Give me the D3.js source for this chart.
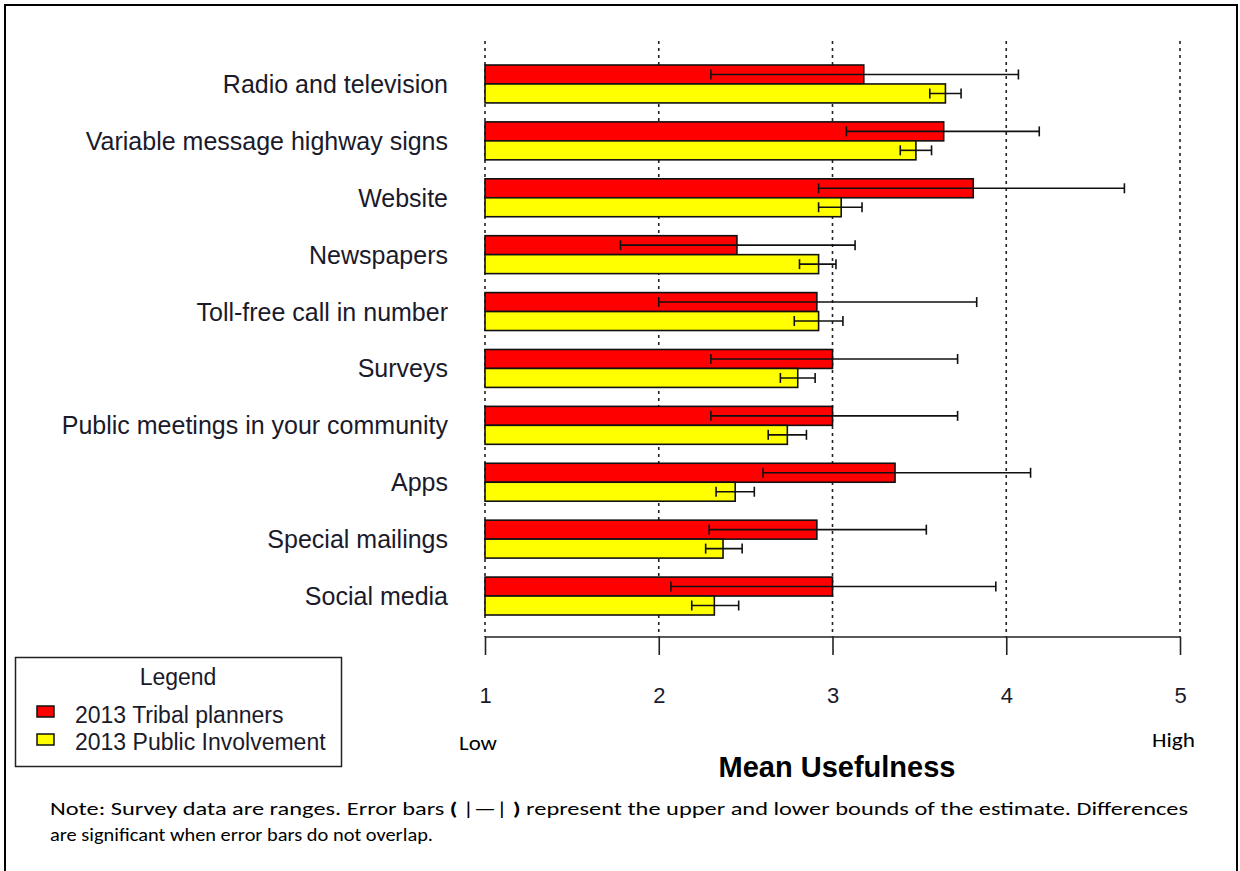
<!DOCTYPE html>
<html><head><meta charset="utf-8">
<script src="https://cdn.jsdelivr.net/npm/d3@7"></script>
<style>body{margin:0;background:#fff}svg{display:block}</style>
</head><body><svg id="c" width="1240" height="871"></svg>
<script>
const categories = ["Radio and television","Variable message highway signs","Website","Newspapers","Toll-free call in number","Surveys","Public meetings in your community","Apps","Special mailings","Social media"];
const seriesNames = ["2013 Tribal planners","2013 Public Involvement"];
const seriesColors = ["#ff0000","#ffff00"];
const tribalMean = [3.18,3.64,3.81,2.45,2.91,3.00,3.00,3.36,2.91,3.00];
const tribalLow  = [2.30,3.08,2.92,1.78,2.00,2.30,2.30,2.60,2.29,2.07];
const tribalHigh = [4.07,4.19,4.68,3.13,3.83,3.72,3.72,4.14,3.54,3.94];
const publicMean = [3.65,3.48,3.05,2.92,2.92,2.80,2.74,2.44,2.37,2.32];
const publicLow  = [3.56,3.39,2.92,2.81,2.78,2.70,2.63,2.33,2.27,2.19];
const publicHigh = [3.74,3.57,3.17,3.02,3.06,2.90,2.85,2.55,2.48,2.46];
const xTicks = [1,2,3,4,5];

const svg = d3.select("#c");
const font = "'Liberation Sans', Arial, sans-serif";
const ink = "#1a1a2a";

// frame
svg.append("path").attr("d","M5,871 V5 H1237 V871").attr("fill","none").attr("stroke","#000").attr("stroke-width",2);

const x = d3.scaleLinear().domain([1,5]).range([485,1180]);
const y = d3.scaleBand().domain(categories).range([65,615]).paddingInner(1/3).paddingOuter(0);
const ys = d3.scaleBand().domain([0,1]).range([0,y.bandwidth()]);

// dotted grid lines
svg.append("g").selectAll("line").data(xTicks).join("line")
  .attr("x1",d=>x(d)).attr("x2",d=>x(d)).attr("y1",41).attr("y2",637)
  .attr("stroke","#222").attr("stroke-width",1.6).attr("stroke-dasharray","3,4");

const rows = [];
categories.forEach((c,i)=>{
  rows.push({c,s:0,m:tribalMean[i],lo:tribalLow[i],hi:tribalHigh[i]});
  rows.push({c,s:1,m:publicMean[i],lo:publicLow[i],hi:publicHigh[i]});
});

svg.append("g").selectAll("rect").data(rows).join("rect")
  .attr("x",x(1)).attr("y",d=>y(d.c)+ys(d.s))
  .attr("width",d=>x(d.m)-x(1)).attr("height",ys.bandwidth())
  .attr("fill",d=>seriesColors[d.s]).attr("stroke","#111").attr("stroke-width",1.6);

const eg = svg.append("g").attr("stroke","#111").attr("stroke-width",1.6);
rows.forEach(d=>{
  const cy = y(d.c)+ys(d.s)+ys.bandwidth()/2;
  eg.append("line").attr("x1",x(d.lo)).attr("x2",x(d.hi)).attr("y1",cy).attr("y2",cy);
  eg.append("line").attr("x1",x(d.lo)).attr("x2",x(d.lo)).attr("y1",cy-5).attr("y2",cy+5);
  eg.append("line").attr("x1",x(d.hi)).attr("x2",x(d.hi)).attr("y1",cy-5).attr("y2",cy+5);
});

// category labels
svg.append("g").selectAll("text").data(categories).join("text")
  .attr("x",448).attr("y",d=>y(d)+y.bandwidth()/2+9)
  .attr("text-anchor","end").attr("font-family",font).attr("font-size",25).attr("fill",ink)
  .text(d=>d);

// x axis
const ax = svg.append("g").attr("transform","translate(0,637)")
  .call(d3.axisBottom(x).tickValues(xTicks).tickSize(18).tickPadding(48).tickFormat(d3.format("d")));
ax.select(".domain").attr("stroke","#222").attr("stroke-width",1.6).attr("d","M485,0H1180");
ax.selectAll(".tick line").attr("stroke","#222").attr("stroke-width",1.6);
ax.selectAll(".tick text").attr("font-family",font).attr("font-size",22).attr("fill",ink).attr("dy",null).attr("y",66);

const calib = "Carlito, 'Open Sans', sans-serif";
svg.append("text").attr("x",459).attr("y",750).attr("font-family",calib).attr("font-size",21).attr("fill","#000")
  .attr("textLength",38).attr("lengthAdjust","spacingAndGlyphs").text("Low");
svg.append("text").attr("x",1152).attr("y",747).attr("font-family",calib).attr("font-size",21).attr("fill","#000")
  .attr("textLength",43).attr("lengthAdjust","spacingAndGlyphs").text("High");
svg.append("text").attr("x",837).attr("y",777).attr("text-anchor","middle").attr("font-family",font).attr("font-size",29).attr("font-weight","bold").attr("fill","#000").text("Mean Usefulness");

// legend
const lg = svg.append("g");
lg.append("rect").attr("x",15.5).attr("y",657.5).attr("width",326).attr("height",109).attr("fill","#fff").attr("stroke","#222").attr("stroke-width",1.5);
lg.append("text").attr("x",178).attr("y",685).attr("text-anchor","middle").attr("font-family",font).attr("font-size",23).attr("fill",ink).text("Legend");
seriesNames.forEach((n,i)=>{
  lg.append("rect").attr("x",37).attr("y",706+i*28).attr("width",17).attr("height",11).attr("fill",seriesColors[i]).attr("stroke","#111").attr("stroke-width",1.5);
  lg.append("text").attr("x",75).attr("y",723+i*27).attr("font-family",font).attr("font-size",23).attr("fill",ink).text(n);
});

// note
const n1 = svg.append("text").attr("x",50).attr("y",815).attr("font-family",calib).attr("font-size",19).attr("fill","#000")
  .attr("textLength",1138).attr("lengthAdjust","spacingAndGlyphs");
n1.append("tspan").text("Note:  Survey data are ranges.  Error bars ");
n1.append("tspan").attr("font-weight","bold").text("( ");
n1.append("tspan").text("|—|");
n1.append("tspan").attr("font-weight","bold").text(" )");
n1.append("tspan").text(" represent the upper and lower bounds of the estimate.  Differences");
svg.append("text").attr("x",50).attr("y",841).attr("font-family",calib).attr("font-size",19).attr("fill","#000")
  .attr("textLength",383).attr("lengthAdjust","spacingAndGlyphs").text("are significant when error bars do not overlap.");
</script></body></html>
